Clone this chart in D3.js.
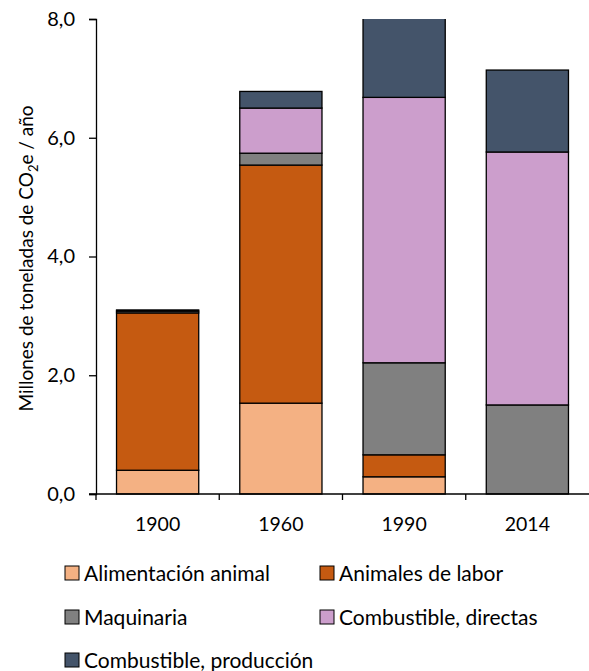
<!DOCTYPE html>
<html>
<head>
<meta charset="utf-8">
<script src="https://cdn.jsdelivr.net/npm/d3@7"></script>
<style>
  body { margin: 0; background: #fff; }
  text { font-family: Lato, "Open Sans", sans-serif; fill: #000; }
</style>
</head>
<body>
<div id="chart"></div>
<script>
// years on the x axis
var years = ["1900", "1960", "1990", "2014"];

// series, bottom to top (millions of t CO2e / yr)
var seriesNames = ["Alimentación animal", "Animales de labor", "Maquinaria", "Combustible, directas", "Combustible, producción"];
var alimentacion = [0.40, 1.53, 0.29, 0.00];
var animalesLabor = [2.65, 4.01, 0.37, 0.00];
var maquinaria = [0.03, 0.20, 1.55, 1.50];
var combDirectas = [0.00, 0.76, 4.47, 4.26];
var combProduccion = [0.02, 0.28, 1.42, 1.38];

var yTicks = [0, 2, 4, 6, 8];
var colors = ["#f4b183", "#c55a11", "#808080", "#cc9ecc", "#44546a"];

var width = 589, height = 671;
var margin = {top: 19, left: 96, bottom: 177, right: 0};

var svg = d3.select("#chart").append("svg")
	.attr("width", width)
	.attr("height", height);

// build rows for the stack
var allSeries = [alimentacion, animalesLabor, maquinaria, combDirectas, combProduccion];
var rows = years.map(function(y, i) {
	var row = {year: y};
	seriesNames.forEach(function(s, j) { row[s] = allSeries[j][i]; });
	return row;
});
var stacked = d3.stack().keys(seriesNames)(rows);

var x = d3.scaleBand()
	.domain(years)
	.range([margin.left, width])
	.paddingInner(0.333)
	.paddingOuter(0.1665);

var y = d3.scaleLinear()
	.domain([0, 8])
	.range([height - margin.bottom, margin.top]);

// clip bars at the top of the axis (1990 goes past 8,0)
svg.append("clipPath").attr("id", "plotclip")
	.append("rect")
	.attr("x", margin.left).attr("y", margin.top)
	.attr("width", width - margin.left)
	.attr("height", height - margin.bottom - margin.top + 2);

var barG = svg.append("g").attr("clip-path", "url(#plotclip)");
stacked.forEach(function(layer, j) {
	barG.selectAll(null)
		.data(layer)
		.enter().append("rect")
		.attr("x", function(d) { return x(d.data.year); })
		.attr("y", function(d) { return y(d[1]); })
		.attr("width", x.bandwidth())
		.attr("height", function(d) { return y(d[0]) - y(d[1]); })
		.attr("fill", colors[j])
		.attr("stroke", function(d) { return d[1] - d[0] > 0 ? "#000" : "none"; })
		.attr("stroke-width", 1.3);
});

// y axis
var yAxis = svg.append("g")
	.attr("transform", "translate(" + margin.left + ",0)")
	.call(d3.axisLeft(y).tickValues(yTicks).tickSizeOuter(0).tickSize(7)
		.tickFormat(function(d) { return d3.format(".1f")(d).replace(".", ","); }));
yAxis.select(".domain").attr("stroke", "#000").attr("stroke-width", 1.3);
yAxis.selectAll(".tick line").attr("stroke", "#000").attr("stroke-width", 1.3);
yAxis.selectAll(".tick text").attr("font-size", 20).attr("x", -21);

// x axis: line + ticks at category boundaries
var y0 = y(0);
var xAxis = svg.append("g");
xAxis.append("line")
	.attr("x1", margin.left - 7).attr("x2", width)
	.attr("y1", y0).attr("y2", y0)
	.attr("stroke", "#000").attr("stroke-width", 1.3);
var step = x.step();
xAxis.selectAll(".xt")
	.data(years)
	.enter().append("line")
	.attr("x1", function(d) { return x(d) - x.paddingOuter() * step; })
	.attr("x2", function(d) { return x(d) - x.paddingOuter() * step; })
	.attr("y1", y0).attr("y2", y0 + 6)
	.attr("stroke", "#000").attr("stroke-width", 1.3);
xAxis.selectAll(".xl")
	.data(years)
	.enter().append("text")
	.attr("x", function(d) { return x(d) + x.bandwidth() / 2; })
	.attr("y", y0 + 37)
	.attr("text-anchor", "middle")
	.attr("font-size", 19.5)
	.text(function(d) { return d; });

// y title with subscript
var title = svg.append("text")
	.attr("transform", "translate(33," + ((y(0) + y(8)) / 2 + 2) + ") rotate(-90)")
	.attr("text-anchor", "middle")
	.attr("font-size", 19);
title.append("tspan").text("Millones de toneladas de CO");
title.append("tspan").attr("font-size", 13).attr("dy", 5).text("2");
title.append("tspan").attr("dy", -5).text("e / año");

// legend
var legendPos = [[65, 573], [320, 573], [65, 617], [320, 617], [65, 660]];
seriesNames.forEach(function(s, j) {
	var g = svg.append("g").attr("transform", "translate(" + legendPos[j][0] + "," + legendPos[j][1] + ")");
	g.append("rect")
		.attr("x", 0).attr("y", -7)
		.attr("width", 14).attr("height", 14)
		.attr("fill", colors[j])
		.attr("stroke", "#000").attr("stroke-width", 1);
	g.append("text")
		.attr("x", 19).attr("y", 0)
		.attr("dy", "0.36em")
		.attr("font-size", 21)
		.text(s);
});
</script>
</body>
</html>
